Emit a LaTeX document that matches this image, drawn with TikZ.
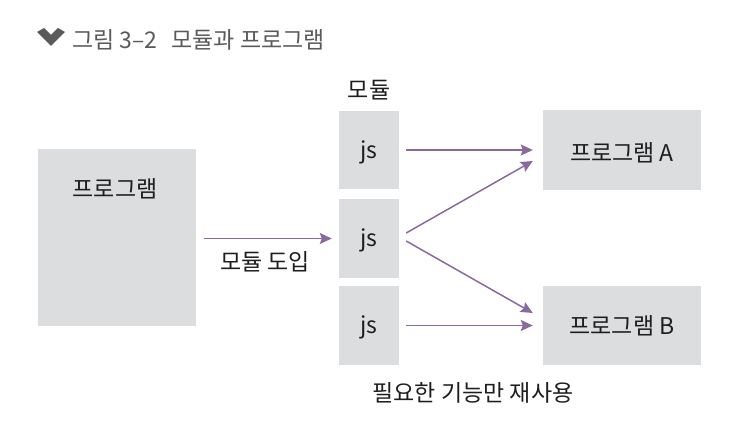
\documentclass[tikz,border=0pt]{standalone}
\usepackage{fontspec}
\setmainfont{Noto Sans CJK KR}
\usetikzlibrary{arrows.meta,calc}
\definecolor{boxgray}{HTML}{DCDDDF}
\definecolor{arrpurple}{HTML}{8A6A9E}
\definecolor{txtdark}{HTML}{1E1E1E}
\definecolor{titlegray}{HTML}{5A5A5A}
\tikzset{
  box/.style={fill=boxgray, draw=none, inner sep=0pt},
  lbl/.style={text=txtdark, font=\fontsize{23}{26}\selectfont, inner sep=0pt},
  arr/.style={draw=arrpurple, line width=1.5pt, -{Stealth[length=12pt,width=11pt,inset=2pt]}},
}
\begin{document}
\begin{tikzpicture}[x=1pt,y=-1pt]
\useasboundingbox (0,0) rectangle (744,435);
% title
\fill[titlegray] (37,32) -- (44,28) -- (51,35) -- (58,28) -- (65,32) -- (51,46) -- cycle;
\node[anchor=west, text=titlegray, font=\fontsize{23}{26}\selectfont, inner sep=0pt] (title) at (72,40) {그림 3–2\hspace{14pt}모듈과 프로그램};
% boxes
\node[box, minimum width=158pt, minimum height=177pt] (prog) at (117,237.5) {};
\node[lbl] (progtxt) at (115,189) {프로그램};
\node[box, minimum width=60pt, minimum height=78pt] (m1) at (369,150) {};
\node[box, minimum width=60pt, minimum height=79pt] (m2) at (369,238.5) {};
\node[box, minimum width=60pt, minimum height=79pt] (m3) at (369,325.5) {};
\node[lbl] (js1) at (369,152) {js};
\node[lbl] (js2) at (369,240) {js};
\node[lbl] (js3) at (369,327) {js};
\node[box, minimum width=158pt, minimum height=80pt] (pA) at (622,150) {};
\node[box, minimum width=158pt, minimum height=79pt] (pB) at (622,325.5) {};
\node[lbl] (pAtxt) at (622,153) {프로그램 A};
\node[lbl] (pBtxt) at (622,326) {프로그램 B};
% labels
\node[lbl] (modlbl) at (369,90) {모듈};
\node[lbl] (implbl) at (265,262) {모듈 도입};
\node[lbl] (reuse) at (473,393) {필요한 기능만 재사용};
% arrows
\draw[arr, shorten <=8pt, shorten >=7pt] (prog.east |- m2.west) -- (m2.west);
\draw[arr, shorten <=7pt, shorten >=10pt] (m1.east) -- (pA.west);
\draw[arr] ($(m2.east)+(7,-5.5)$) -- ($(pA.west)+(-10,11)$);
\draw[arr] ($(m2.east)+(7,2.5)$) -- ($(pB.west)+(-10,-12.5)$);
\draw[arr, shorten <=7pt, shorten >=10pt] (m3.east) -- (m3.east -| pB.west);
\end{tikzpicture}
\end{document}
